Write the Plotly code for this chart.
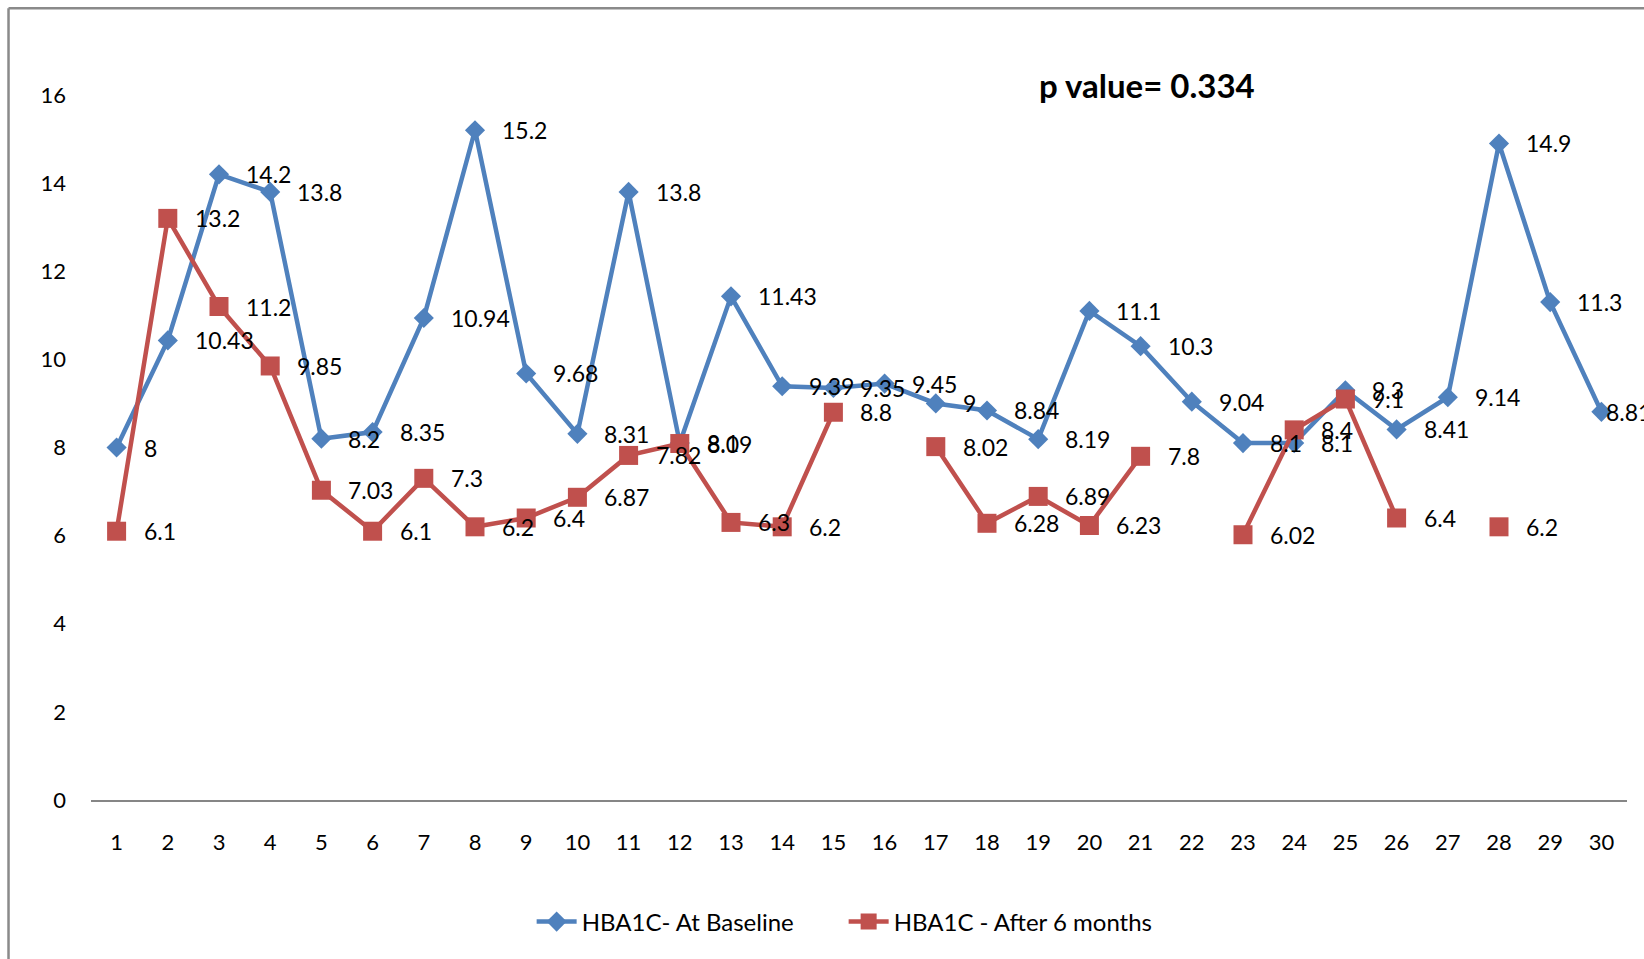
import plotly.graph_objects as go

# Patient index on the category axis
patients = [1, 2, 3, 4, 5, 6, 7, 8, 9, 10, 11, 12, 13, 14, 15,
            16, 17, 18, 19, 20, 21, 22, 23, 24, 25, 26, 27, 28, 29, 30]

# HbA1c (%) at baseline
hba1c_baseline = [8, 10.43, 14.2, 13.8, 8.2, 8.35, 10.94, 15.2, 9.68, 8.31,
                  13.8, 8.1, 11.43, 9.39, 9.35, 9.45, 9, 8.84, 8.19, 11.1,
                  10.3, 9.04, 8.1, 8.1, 9.3, 8.41, 9.14, 14.9, 11.3, 8.81]

# HbA1c (%) after 6 months (None = no follow-up value)
hba1c_6months = [6.1, 13.2, 11.2, 9.85, 7.03, 6.1, 7.3, 6.2, 6.4, 6.87,
                 7.82, 8.09, 6.3, 6.2, 8.8, None, 8.02, 6.28, 6.89, 6.23,
                 7.8, None, 6.02, 8.4, 9.1, 6.4, None, 6.2, None, None]

y_ticks = [0, 2, 4, 6, 8, 10, 12, 14, 16]
p_value_text = "p value= 0.334"

BLUE = "#4F81BD"
RED = "#C0504D"
FONT = "Lato"

fig = go.Figure()

fig.add_trace(go.Scatter(
    x=patients, y=hba1c_baseline, mode="lines+markers",
    name="HBA1C- At Baseline",
    line=dict(color=BLUE, width=4.5),
    marker=dict(symbol="diamond", size=15.5, color=BLUE),
))
fig.add_trace(go.Scatter(
    x=patients, y=hba1c_6months, mode="lines+markers",
    name="HBA1C - After 6 months",
    line=dict(color=RED, width=4.5),
    marker=dict(symbol="square", size=19, color=RED),
))

# Data labels to the right of each point; the last one is pulled in to stay on the page
annotations = []
last_x = patients[-1]
for series in (hba1c_baseline, hba1c_6months):
    for xv, yv in zip(patients, series):
        if yv is None:
            continue
        annotations.append(dict(
            x=xv, y=yv, xref="x", yref="y", text=f"{yv:g}",
            showarrow=False, xanchor="left", yanchor="middle",
            xshift=3 if xv == last_x else 25,
            font=dict(family=FONT, size=23, color="black"),
        ))

annotations.append(dict(
    x=0.6875, y=1.0142, xref="paper", yref="paper", text=f"<b>{p_value_text}</b>",
    showarrow=False, xanchor="center", yanchor="middle",
    font=dict(family=FONT, size=33, color="black"),
))

# Outer chart frame (top and left edges)
frame = dict(type="line", xref="paper", yref="paper",
             line=dict(color="#8A8A8A", width=2.5))
shapes = [
    dict(frame, x0=-0.0537, x1=-0.0537, y0=-0.30, y1=1.1229),
    dict(frame, x0=-0.0537, x1=1.05, y0=1.1229, y1=1.1229),
]

fig.update_layout(
    width=1644, height=959, autosize=False,
    margin=dict(l=91, r=17, t=95, b=159),
    paper_bgcolor="white", plot_bgcolor="white",
    font=dict(family=FONT, size=23, color="black"),
    showlegend=True,
    legend=dict(orientation="h", x=0.49, y=-0.173, xanchor="center", yanchor="middle",
                font=dict(family=FONT, size=24), itemwidth=40,
                entrywidth=257, entrywidthmode="pixels"),
    annotations=annotations,
    shapes=shapes,
    xaxis=dict(range=[0.5, 30.5], tickvals=patients, ticktext=[str(p) for p in patients],
               showgrid=False, zeroline=False, showline=True, linecolor="#868686",
               linewidth=2, ticks="", ticklabelstandoff=22,
               tickfont=dict(family=FONT, size=22)),
    yaxis=dict(range=[0, 16], tickvals=y_ticks, showgrid=False, zeroline=False,
               showline=False, ticks="", ticklabelstandoff=24,
               tickfont=dict(family=FONT, size=22)),
)

fig.write_html("out.html")
